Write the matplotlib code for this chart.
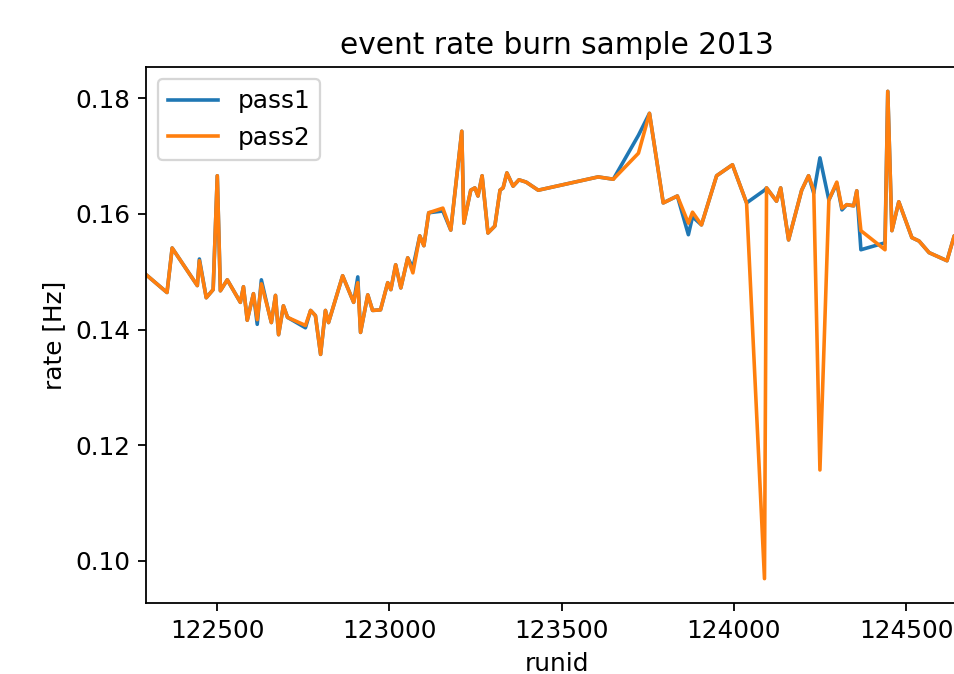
import numpy as np
import matplotlib
matplotlib.use("Agg")
import matplotlib.pyplot as plt

# run numbers (shared by both passes)
runs = [122293, 122354, 122369, 122442, 122448, 122468, 122488, 122500, 122509, 122529,
        122567, 122576, 122587, 122605, 122616, 122628, 122648, 122657, 122669, 122678,
        122692, 122704, 122756, 122771, 122785, 122800, 122814, 122823, 122864, 122896,
        122908, 122916, 122937, 122951, 122974, 122995, 123004, 123018, 123033, 123053,
        123068, 123088, 123100, 123114, 123155, 123178, 123210, 123216, 123236, 123248,
        123257, 123269, 123286, 123306, 123321, 123330, 123341, 123359, 123376, 123397,
        123432, 123606, 123650, 123723, 123755, 123795, 123836, 123868, 123880, 123906,
        123950, 123996, 124037, 124089, 124095, 124124, 124136, 124159, 124197, 124217,
        124232, 124250, 124276, 124299, 124314, 124328, 124348, 124357, 124369, 124439,
        124447, 124459, 124479, 124517, 124538, 124567, 124619, 124640, 124680]

rate_pass2 = [0.1495, 0.1464, 0.1541, 0.1476, 0.1519, 0.1455, 0.1469, 0.1666, 0.1467, 0.1486,
              0.1447, 0.1474, 0.1416, 0.1462, 0.1417, 0.1479, 0.1434, 0.1412, 0.1459, 0.1391,
              0.1441, 0.1421, 0.1407, 0.1433, 0.1424, 0.1357, 0.1433, 0.1412, 0.1493, 0.1447,
              0.1481, 0.1395, 0.1460, 0.1433, 0.1434, 0.1481, 0.1469, 0.1512, 0.1472, 0.1524,
              0.1498, 0.1562, 0.1545, 0.1602, 0.1610, 0.1572, 0.1743, 0.1584, 0.1641, 0.1645,
              0.1631, 0.1666, 0.1567, 0.1579, 0.1641, 0.1645, 0.1671, 0.1648, 0.1659, 0.1655,
              0.1641, 0.1664, 0.1660, 0.1705, 0.1774, 0.1619, 0.1631, 0.1584, 0.1603, 0.1581,
              0.1666, 0.1685, 0.1619, 0.0969, 0.1645, 0.1622, 0.1645, 0.1555, 0.1641, 0.1666,
              0.1641, 0.1157, 0.1624, 0.1655, 0.1610, 0.1616, 0.1614, 0.1640, 0.1571, 0.1538,
              0.1812, 0.1571, 0.1621, 0.1559, 0.1553, 0.1533, 0.1519, 0.1562, 0.1571]

# pass1 agrees with pass2 except at these runs
pass1_diff = {122448: 0.1522, 122616: 0.1409, 122628: 0.1486, 122756: 0.1403,
              122908: 0.1491, 123068: 0.1507, 123155: 0.1605, 123723: 0.1736,
              123868: 0.1564, 123880: 0.1595, 124089: 0.1641, 124232: 0.1636,
              124250: 0.1697, 124299: 0.1653, 124314: 0.1607, 124369: 0.1538,
              124439: 0.1550}
rate_pass1 = [pass1_diff.get(r, v) for r, v in zip(runs, rate_pass2)]

plt.rcParams['font.size'] = 11
plt.rcParams['axes.titlesize'] = 13.2
plt.rcParams['lines.linewidth'] = 1.6

dpi = 162
fig = plt.figure(figsize=(954 / dpi, 674 / dpi), dpi=dpi)
# axes run past the right edge of the image, as in the original (cropped) output
ax = fig.add_axes([146 / 954, 71 / 674, 822 / 954, 536 / 674])

ax.plot(runs, rate_pass1, label='pass1')
ax.plot(runs, rate_pass2, label='pass2')
ax.set_xlim(runs[0], runs[-1])
ax.set_xlabel('runid')
ax.set_ylabel('rate [Hz]')
ax.set_title('event rate burn sample 2013')
ax.legend(loc='upper left')

fig.savefig('out.png', dpi=dpi)
